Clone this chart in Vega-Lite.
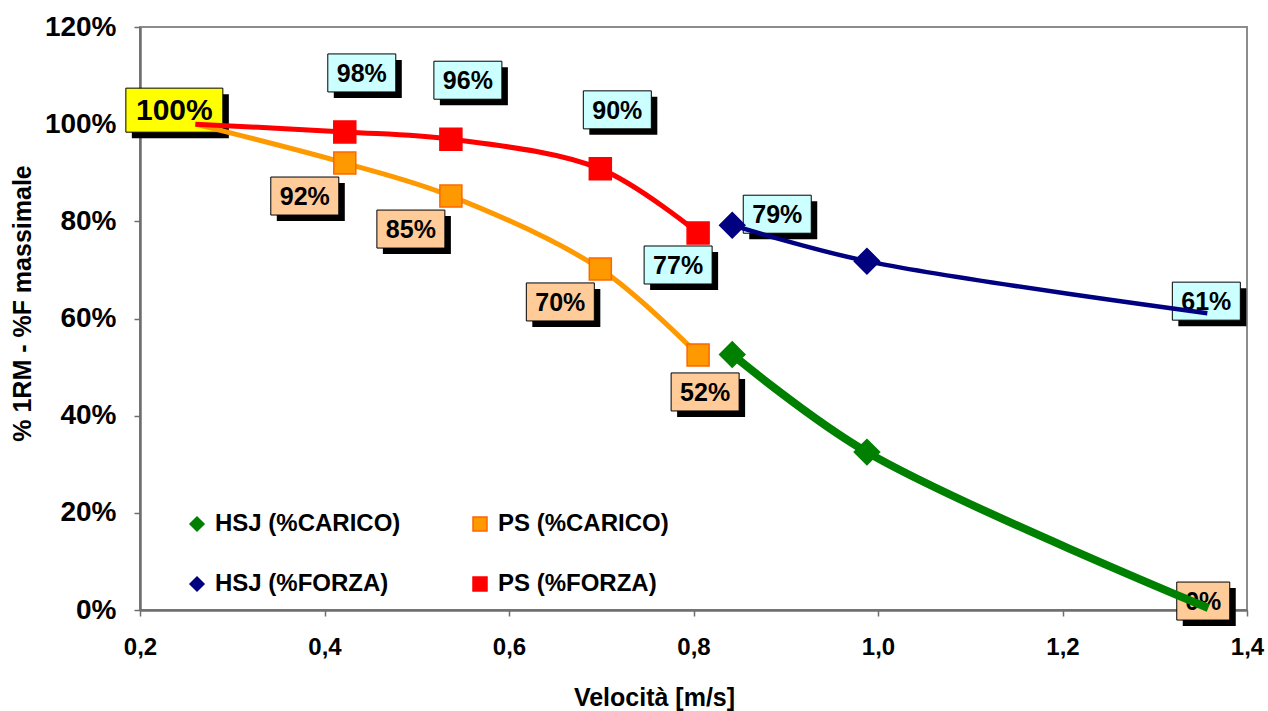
{
  "$schema": "https://vega.github.io/schema/vega-lite/v6.json",
  "width": 1107,
  "height": 583,
  "autosize": {"type": "none"},
  "padding": {"left": 140, "top": 27, "right": 21, "bottom": 101},
  "background": "white",
  "config": {"view": {"stroke": "#8c8c8c", "strokeWidth": 2}, "font": "Liberation Sans"},
  "datasets": {
    "series": [
      {"series": "PS (%CARICO)", "v": 0.26, "p": 100},
      {"series": "PS (%CARICO)", "v": 0.422, "p": 92.0},
      {"series": "PS (%CARICO)", "v": 0.537, "p": 85.2},
      {"series": "PS (%CARICO)", "v": 0.699, "p": 70.2},
      {"series": "PS (%CARICO)", "v": 0.805, "p": 52.5},
      {"series": "PS (%FORZA)", "v": 0.26, "p": 100},
      {"series": "PS (%FORZA)", "v": 0.422, "p": 98.4},
      {"series": "PS (%FORZA)", "v": 0.537, "p": 96.9},
      {"series": "PS (%FORZA)", "v": 0.699, "p": 90.8},
      {"series": "PS (%FORZA)", "v": 0.805, "p": 77.6},
      {"series": "HSJ (%FORZA)", "v": 0.842, "p": 79.2},
      {"series": "HSJ (%FORZA)", "v": 0.988, "p": 71.8},
      {"series": "HSJ (%FORZA)", "v": 1.357, "p": 61.1},
      {"series": "HSJ (%CARICO)", "v": 0.842, "p": 52.6},
      {"series": "HSJ (%CARICO)", "v": 0.988, "p": 32.5},
      {"series": "HSJ (%CARICO)", "v": 1.358, "p": 0.4}
    ],
    "labels": [
      {"v": 0.26, "p": 100, "label": "100%", "pos": "first"},
      {"v": 0.422, "p": 98.4, "label": "98%", "pos": "above"},
      {"v": 0.537, "p": 96.9, "label": "96%", "pos": "above"},
      {"v": 0.699, "p": 90.8, "label": "90%", "pos": "above"},
      {"v": 0.805, "p": 77.6, "label": "77%", "pos": "below"},
      {"v": 0.422, "p": 92.0, "label": "92%", "pos": "belowleft"},
      {"v": 0.537, "p": 85.2, "label": "85%", "pos": "belowleft"},
      {"v": 0.699, "p": 70.2, "label": "70%", "pos": "belowleft"},
      {"v": 0.805, "p": 52.5, "label": "52%", "pos": "belowright"},
      {"v": 0.842, "p": 79.2, "label": "79%", "pos": "right"},
      {"v": 1.357, "p": 61.1, "label": "61%", "pos": "end"},
      {"v": 1.358, "p": 0.4, "label": "0%", "pos": "end0"}
    ]
  },
  "encoding": {
    "x": {
      "field": "v", "type": "quantitative",
      "scale": {"domain": [0.2, 1.4], "nice": false, "zero": false},
      "axis": {
        "title": "Velocità [m/s]",
        "values": [0.2, 0.4, 0.6, 0.8, 1.0, 1.2, 1.4],
        "labelExpr": "replace(format(datum.value,'.1f'),'.',',')",
        "grid": false, "domainColor": "#6e6e6e", "domainWidth": 2.5,
        "tickColor": "#6e6e6e", "tickSize": 6, "tickWidth": 1.5,
        "labelFont": "Liberation Sans", "labelFontWeight": "bold", "labelFontSize": 24, "labelColor": "black",
        "labelPadding": 19, "labelFlush": false, "labelOverlap": false,
        "titleFont": "Liberation Sans", "titleFontWeight": "bold", "titleFontSize": 25, "titleColor": "black",
        "titleX": 514, "titleY": 87, "titleAlign": "center", "titleBaseline": "middle"
      }
    },
    "y": {
      "field": "p", "type": "quantitative",
      "scale": {"domain": [0, 120], "nice": false},
      "axis": {
        "title": "% 1RM - %F massimale",
        "values": [0, 20, 40, 60, 80, 100, 120],
        "labelExpr": "datum.value + '%'",
        "grid": false, "domainColor": "#6e6e6e", "domainWidth": 2.5,
        "tickColor": "#6e6e6e", "tickSize": 6, "tickWidth": 1.5,
        "labelFont": "Liberation Sans", "labelFontWeight": "bold", "labelFontSize": 28, "labelColor": "black",
        "labelPadding": 18, "labelFlush": false, "labelOverlap": false,
        "titleFont": "Liberation Sans", "titleFontWeight": "bold", "titleFontSize": 25, "titleColor": "black",
        "titleX": -118, "titleY": 276, "titleAlign": "center", "titleBaseline": "middle", "titleAngle": -90
      }
    }
  },
  "layer": [
    {
      "data": {"name": "labels"},
      "transform": [{"filter": "datum.pos === 'above'"}],
      "layer": [
        {"mark": {"type": "point", "shape": "M-1,-0.559H1V0.559H-1Z", "size": 4624, "filled": true, "fill": "black", "strokeWidth": 0, "opacity": 1, "xOffset": 23, "yOffset": -53}},
        {"mark": {"type": "point", "shape": "M-1,-0.559H1V0.559H-1Z", "size": 4624, "filled": true, "fill": "#CCFFFF", "stroke": "black", "strokeWidth": 1, "opacity": 1, "xOffset": 17, "yOffset": -59}},
        {"mark": {"type": "text", "font": "Liberation Sans", "fontWeight": "bold", "fontSize": 25, "color": "black", "baseline": "middle", "align": "center", "xOffset": 17, "yOffset": -58}, "encoding": {"text": {"field": "label"}}}
      ]
    },
    {
      "data": {"name": "labels"},
      "transform": [{"filter": "datum.pos === 'belowleft'"}],
      "layer": [
        {"mark": {"type": "point", "shape": "M-1,-0.559H1V0.559H-1Z", "size": 4624, "filled": true, "fill": "black", "strokeWidth": 0, "opacity": 1, "xOffset": -34, "yOffset": 39}},
        {"mark": {"type": "point", "shape": "M-1,-0.559H1V0.559H-1Z", "size": 4624, "filled": true, "fill": "#FFCC99", "stroke": "black", "strokeWidth": 1, "opacity": 1, "xOffset": -40, "yOffset": 33}},
        {"mark": {"type": "text", "font": "Liberation Sans", "fontWeight": "bold", "fontSize": 25, "color": "black", "baseline": "middle", "align": "center", "xOffset": -40, "yOffset": 34}, "encoding": {"text": {"field": "label"}}}
      ]
    },
    {
      "data": {"name": "labels"},
      "transform": [{"filter": "datum.pos === 'below'"}],
      "layer": [
        {"mark": {"type": "point", "shape": "M-1,-0.559H1V0.559H-1Z", "size": 4624, "filled": true, "fill": "black", "strokeWidth": 0, "opacity": 1, "xOffset": -14, "yOffset": 38}},
        {"mark": {"type": "point", "shape": "M-1,-0.559H1V0.559H-1Z", "size": 4624, "filled": true, "fill": "#CCFFFF", "stroke": "black", "strokeWidth": 1, "opacity": 1, "xOffset": -20, "yOffset": 32}},
        {"mark": {"type": "text", "font": "Liberation Sans", "fontWeight": "bold", "fontSize": 25, "color": "black", "baseline": "middle", "align": "center", "xOffset": -20, "yOffset": 33}, "encoding": {"text": {"field": "label"}}}
      ]
    },
    {
      "data": {"name": "labels"},
      "transform": [{"filter": "datum.pos === 'belowright'"}],
      "layer": [
        {"mark": {"type": "point", "shape": "M-1,-0.559H1V0.559H-1Z", "size": 4624, "filled": true, "fill": "black", "strokeWidth": 0, "opacity": 1, "xOffset": 13, "yOffset": 43}},
        {"mark": {"type": "point", "shape": "M-1,-0.559H1V0.559H-1Z", "size": 4624, "filled": true, "fill": "#FFCC99", "stroke": "black", "strokeWidth": 1, "opacity": 1, "xOffset": 7, "yOffset": 37}},
        {"mark": {"type": "text", "font": "Liberation Sans", "fontWeight": "bold", "fontSize": 25, "color": "black", "baseline": "middle", "align": "center", "xOffset": 7, "yOffset": 38}, "encoding": {"text": {"field": "label"}}}
      ]
    },
    {
      "data": {"name": "labels"},
      "transform": [{"filter": "datum.pos === 'right'"}],
      "layer": [
        {"mark": {"type": "point", "shape": "M-1,-0.559H1V0.559H-1Z", "size": 4624, "filled": true, "fill": "black", "strokeWidth": 0, "opacity": 1, "xOffset": 51, "yOffset": -5}},
        {"mark": {"type": "point", "shape": "M-1,-0.559H1V0.559H-1Z", "size": 4624, "filled": true, "fill": "#CCFFFF", "stroke": "black", "strokeWidth": 1, "opacity": 1, "xOffset": 45, "yOffset": -11}},
        {"mark": {"type": "text", "font": "Liberation Sans", "fontWeight": "bold", "fontSize": 25, "color": "black", "baseline": "middle", "align": "center", "xOffset": 45, "yOffset": -10}, "encoding": {"text": {"field": "label"}}}
      ]
    },
    {
      "data": {"name": "labels"},
      "transform": [{"filter": "datum.pos === 'end'"}],
      "layer": [
        {"mark": {"type": "point", "shape": "M-1,-0.559H1V0.559H-1Z", "size": 4624, "filled": true, "fill": "black", "strokeWidth": 0, "opacity": 1, "xOffset": 5, "yOffset": -6}},
        {"mark": {"type": "point", "shape": "M-1,-0.559H1V0.559H-1Z", "size": 4624, "filled": true, "fill": "#CCFFFF", "stroke": "black", "strokeWidth": 1, "opacity": 1, "xOffset": -1, "yOffset": -12}},
        {"mark": {"type": "text", "font": "Liberation Sans", "fontWeight": "bold", "fontSize": 25, "color": "black", "baseline": "middle", "align": "center", "xOffset": -1, "yOffset": -11}, "encoding": {"text": {"field": "label"}}}
      ]
    },
    {
      "data": {"name": "labels"},
      "transform": [{"filter": "datum.pos === 'end0'"}],
      "layer": [
        {"mark": {"type": "point", "shape": "M-1,-0.717H1V0.717H-1Z", "size": 2809, "filled": true, "fill": "black", "strokeWidth": 0, "opacity": 1, "xOffset": 1, "yOffset": -1}},
        {"mark": {"type": "point", "shape": "M-1,-0.717H1V0.717H-1Z", "size": 2809, "filled": true, "fill": "#FFCC99", "stroke": "black", "strokeWidth": 1, "opacity": 1, "xOffset": -5, "yOffset": -7}},
        {"mark": {"type": "text", "font": "Liberation Sans", "fontWeight": "bold", "fontSize": 25, "color": "black", "baseline": "middle", "align": "center", "xOffset": -5, "yOffset": -6}, "encoding": {"text": {"field": "label"}}}
      ]
    },
    {
      "data": {"name": "labels"},
      "transform": [{"filter": "datum.pos === 'first'"}],
      "layer": [
        {"mark": {"type": "point", "shape": "M-1,-0.454H1V0.454H-1Z", "size": 9409, "filled": true, "fill": "black", "strokeWidth": 0, "opacity": 1, "xOffset": -15, "yOffset": -8}},
        {"mark": {"type": "point", "shape": "M-1,-0.454H1V0.454H-1Z", "size": 9409, "filled": true, "fill": "#FFFF00", "stroke": "black", "strokeWidth": 1, "opacity": 1, "xOffset": -21, "yOffset": -14}},
        {"mark": {"type": "text", "font": "Liberation Sans", "fontWeight": "bold", "fontSize": 30, "color": "black", "baseline": "middle", "align": "center", "xOffset": -21, "yOffset": -13}, "encoding": {"text": {"field": "label"}}}
      ]
    },
    {
      "data": {"name": "series"},
      "transform": [{"filter": "datum.series === 'PS (%CARICO)'"}],
      "mark": {"type": "line", "interpolate": "catmull-rom", "strokeWidth": 5, "color": "#FF9900"},
      "encoding": {}
    },
    {
      "data": {"name": "series"},
      "transform": [{"filter": "datum.series === 'PS (%FORZA)'"}],
      "mark": {"type": "line", "interpolate": "catmull-rom", "strokeWidth": 5, "color": "#FF0000"},
      "encoding": {}
    },
    {
      "data": {"name": "series"},
      "transform": [{"filter": "datum.series === 'HSJ (%FORZA)'"}],
      "mark": {"type": "line", "interpolate": "catmull-rom", "strokeWidth": 4.5, "color": "#000080"},
      "encoding": {}
    },
    {
      "data": {"name": "series"},
      "transform": [{"filter": "datum.series === 'HSJ (%CARICO)'"}],
      "mark": {"type": "line", "interpolate": "catmull-rom", "strokeWidth": 8, "color": "#008000"},
      "encoding": {}
    },
    {
      "data": {"name": "series"},
      "transform": [{"filter": "datum.v > 0.3 && datum.v < 1.3 && indexof(datum.series, 'PS') === 0"}],
      "mark": {"type": "point", "filled": true, "opacity": 1, "strokeWidth": 1.5, "size": 484},
      "encoding": {
        "fill": {"field": "series", "type": "nominal",
          "scale": {"domain": ["HSJ (%CARICO)", "HSJ (%FORZA)", "PS (%CARICO)", "PS (%FORZA)"], "range": ["#008000", "#000080", "#FF9900", "#FF0000"]},
          "legend": {"orient": "none", "legendX": 45, "legendY": 485, "columns": 2, "columnPadding": 67, "rowPadding": 36, "title": null, "direction": "vertical",
            "labelFont": "Liberation Sans", "labelFontWeight": "bold", "labelFontSize": 24, "labelColor": "black", "labelLimit": 400,
            "symbolSize": 196, "symbolStrokeWidth": 1.5, "labelOffset": 6, "padding": 0}},
        "stroke": {"field": "series", "type": "nominal",
          "scale": {"domain": ["HSJ (%CARICO)", "HSJ (%FORZA)", "PS (%CARICO)", "PS (%FORZA)"], "range": ["#008000", "#000080", "#FF6600", "#FF0000"]}},
        "shape": {"field": "series", "type": "nominal",
          "scale": {"domain": ["HSJ (%CARICO)", "HSJ (%FORZA)", "PS (%CARICO)", "PS (%FORZA)"], "range": ["diamond", "diamond", "square", "square"]}}
      }
    },
    {
      "data": {"name": "series"},
      "transform": [{"filter": "datum.v > 0.3 && datum.v < 1.3 && indexof(datum.series, 'HSJ') === 0"}],
      "mark": {"type": "point", "filled": true, "opacity": 1, "strokeWidth": 1.5, "size": 640},
      "encoding": {
        "fill": {"field": "series", "type": "nominal",
          "scale": {"domain": ["HSJ (%CARICO)", "HSJ (%FORZA)", "PS (%CARICO)", "PS (%FORZA)"], "range": ["#008000", "#000080", "#FF9900", "#FF0000"]}},
        "stroke": {"field": "series", "type": "nominal",
          "scale": {"domain": ["HSJ (%CARICO)", "HSJ (%FORZA)", "PS (%CARICO)", "PS (%FORZA)"], "range": ["#008000", "#000080", "#FF6600", "#FF0000"]}},
        "shape": {"field": "series", "type": "nominal",
          "scale": {"domain": ["HSJ (%CARICO)", "HSJ (%FORZA)", "PS (%CARICO)", "PS (%FORZA)"], "range": ["diamond", "diamond", "square", "square"]}}
      }
    }
  ]
}
